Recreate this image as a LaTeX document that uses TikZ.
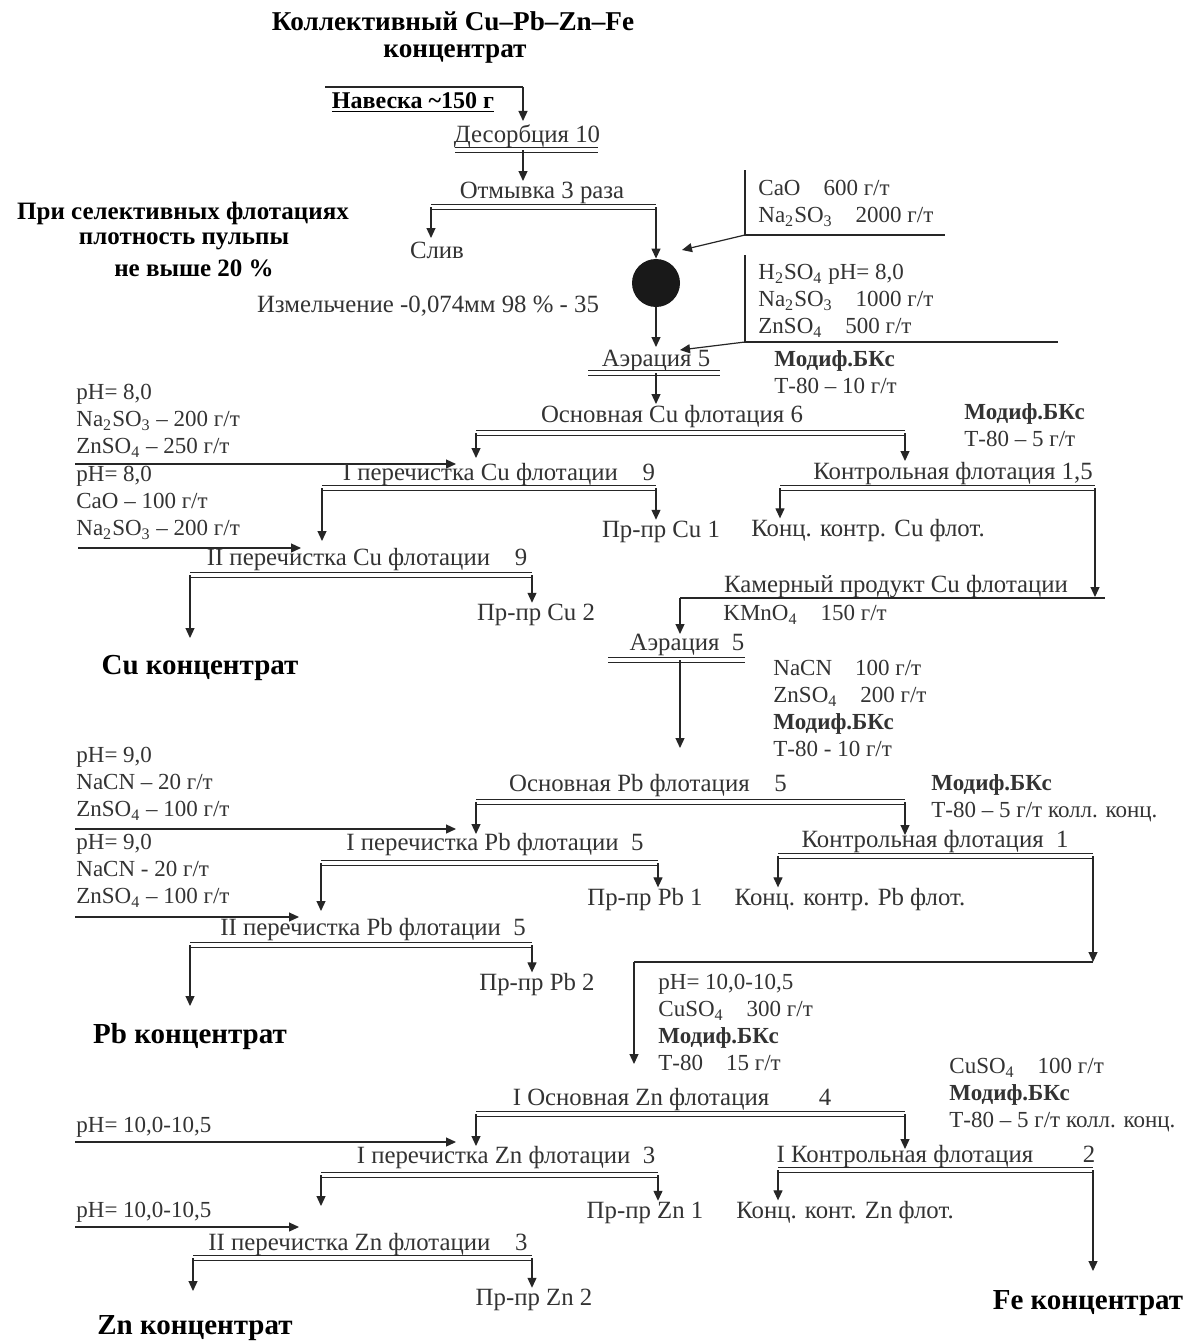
\documentclass[tikz,border=0pt]{standalone}
\usepackage{fontspec}
\setmainfont{Liberation Serif}
\usetikzlibrary{arrows.meta}
\newcommand{\subx}[1]{\textsubscript{#1}}
\begin{document}
\begin{tikzpicture}[x=0.5pt,y=-0.5pt,
  txt/.style={inner sep=0.5pt, text=black!80, font=\fontsize{12.4}{13.5}\selectfont},
  blk/.style={inner sep=0.5pt, text=black!80, font=\fontsize{11.5}{13.5}\selectfont, align=left, anchor=north west},
  hd/.style={inner sep=0.5pt, font=\bfseries\fontsize{14.5}{17}\selectfont},
  ttl/.style={inner sep=0.5pt, font=\bfseries\fontsize{13.6}{15}\selectfont},
  note/.style={inner sep=0.5pt, font=\bfseries\fontsize{12.5}{14}\selectfont},
  arr/.style={draw=black!85, line width=0.6pt, -{Triangle[length=5pt,width=4.5pt]}},
  ln/.style={draw=black!85, line width=0.6pt},
  bar/.style={draw=black!85, double, double distance=1.6pt, line width=0.5pt}]
\useasboundingbox (0,0) rectangle (1200,1343);
\fill[white] (0,0) rectangle (1200,1343);

% ---------- title ----------
\node[ttl] (t1) at (453,21) {Коллективный Cu–Pb–Zn–Fe};
\node[ttl] (t2) at (455,54) {концентрат};

% ---------- Навеска / Десорбция / Отмывка ----------
\coordinate (nvA) at (325,87);
\coordinate (nvB) at (523,87);
\node[inner sep=0.5pt, font=\bfseries\fontsize{12}{14}\selectfont] (nav) at (413,103) {\underline{Навеска \textasciitilde150 г}};
\coordinate (desIn) at (523,121);
\draw[ln] (nvA) -- (nvB);
\draw[arr] (nvB) -- (desIn);
\node[txt] (des) at (527,136) {Десорбция 10};
\coordinate (desL) at (455,150);
\coordinate (desR) at (598,150);
\coordinate (desM) at (523,150);
\draw[bar] (desL) -- (desR);
\coordinate (otmIn) at (523,181);
\draw[arr] (desM) -- (otmIn);
\node[txt] (otm) at (542,193) {Отмывка 3 раза};
\coordinate (otmL) at (431,207);
\coordinate (otmR) at (656,207);
\draw[bar] (otmL) -- (otmR);
\coordinate (slivIn) at (431,238);
\draw[arr] (otmL) -- (slivIn);
\node[txt] (sliv) at (437,250) {Слив};
\node[circle, fill=black!90, minimum size=24pt, inner sep=0pt] (mill) at (656,283) {};
\draw[arr] (otmR) -- (mill.north);

% note and grinding
\node[note] (n1) at (183,213) {При селективных флотациях};
\node[note] (n2) at (184,241) {плотность пульпы};
\node[note] (n3) at (194,268) {не выше 20 \%};
\node[txt] (grind) at (428,306) {Измельчение -0,074мм 98 \% - 35};

% reagent box 1
\coordinate (r1T) at (745,170);
\coordinate (r1B) at (745,235);
\coordinate (r1E) at (945,235);
\draw[ln] (r1T) -- (r1B) -- (r1E);
\node[blk] (r1) at (757,179) {CaO\quad 600 г/т\\Na\subx{2}SO\subx{3}\quad 2000 г/т};
\coordinate (r1tip) at (682,250);
\draw[arr] (r1B) -- (r1tip);

% reagent box 2
\coordinate (r2T) at (745,255);
\coordinate (r2B) at (745,342);
\coordinate (r2E) at (1058,342);
\draw[ln] (r2T) -- (r2B) -- (r2E);
\node[blk] (r2) at (757,263) {H\subx{2}SO\subx{4} pH= 8,0\\Na\subx{2}SO\subx{3}\quad 1000 г/т\\ZnSO\subx{4}\quad 500 г/т};
\coordinate (r2tip) at (680,350);
\draw[arr] (r2B) -- (r2tip);

% Аэрация 5
\coordinate (aerIn) at (656,347);
\draw[arr] (mill.south) -- (aerIn);
\node[txt] (aer1) at (656,361) {Аэрация 5};
\coordinate (aer1L) at (588,373);
\coordinate (aer1R) at (720,373);
\coordinate (aer1M) at (656,373);
\draw[bar] (aer1L) -- (aer1R);
\coordinate (ocuIn) at (656,404);
\draw[arr] (aer1M) -- (ocuIn);
\node[blk] (m1) at (773,349) {\textbf{Модиф.БКс}\\Т-80 – 10 г/т};

% ---------- Cu ----------
\node[txt] (ocu) at (672,417) {Основная Cu флотация 6};
\coordinate (ocuL) at (476,433);
\coordinate (ocuR) at (905,433);
\draw[bar] (ocuL) -- (ocuR);
\coordinate (p1cuIn) at (476,458);
\coordinate (kcuIn) at (905,461);
\draw[arr] (ocuL) -- (p1cuIn);
\draw[arr] (ocuR) -- (kcuIn);
\node[blk] (m2) at (963,402) {\textbf{Модиф.БКс}\\Т-80 – 5 г/т};

\node[txt] (kcu) at (953,474) {Контрольная флотация 1,5};
\coordinate (kcuL) at (780,488);
\coordinate (kcuR) at (1095,488);
\draw[bar] (kcuL) -- (kcuR);
\node[txt] (kkcu) at (868,531) {Конц. контр. Cu флот.};
\draw[arr] (kcuL) -- (kkcu.north -| kcuL);

\node[blk] (la1) at (75,383) {pH= 8,0\\Na\subx{2}SO\subx{3} – 200 г/т\\ZnSO\subx{4} – 250 г/т};
\coordinate (la1A) at (75,464);
\coordinate (la1B) at (456,464);
\draw[arr] (la1A) -- (la1B);

\node[txt] (p1cu) at (499,475) {I перечистка Cu флотации\quad 9};
\coordinate (p1cuL) at (322,488);
\coordinate (p1cuR) at (656,488);
\draw[bar] (p1cuL) -- (p1cuR);
\coordinate (p2cuIn) at (322,541);
\draw[arr] (p1cuL) -- (p2cuIn);
\node[txt] (prcu1) at (661,532) {Пр-пр Cu 1};
\draw[arr] (p1cuR) -- (prcu1.north -| p1cuR);

\node[blk] (la2) at (75,465) {pH= 8,0\\CaO – 100 г/т\\Na\subx{2}SO\subx{3} – 200 г/т};
\coordinate (la2A) at (78,548);
\coordinate (la2B) at (301,548);
\draw[arr] (la2A) -- (la2B);

\node[txt] (p2cu) at (367,560) {II перечистка Cu флотации\quad 9};
\coordinate (p2cuL) at (190,575);
\coordinate (p2cuR) at (532,575);
\draw[bar] (p2cuL) -- (p2cuR);
\node[hd] (cuk) at (200,668) {Cu концентрат};
\coordinate (cukIn) at (190,638);
\draw[arr] (p2cuL) -- (cukIn);
\node[txt] (prcu2) at (536,615) {Пр-пр Cu 2};
\draw[arr] (p2cuR) -- (prcu2.north -| p2cuR);

% камерный продукт
\node[txt] (kam) at (896,587) {Камерный продукт Cu флотации};
\coordinate (kamL) at (680,598);
\coordinate (kamR) at (1105,598);
\coordinate (kamM) at (1095,597);
\draw[ln] (kamL) -- (kamR);
\draw[arr] (kcuR) -- (kamM);
\node[blk] (kmn) at (722,604) {KMnO\subx{4}\quad 150 г/т};
\coordinate (aer2In) at (680,634);
\draw[arr] (kamL) -- (aer2In);
\node[txt] (aer2) at (687,645) {Аэрация\enspace 5};
\coordinate (aer2L) at (608,660);
\coordinate (aer2R) at (745,660);
\coordinate (aer2M) at (680,660);
\draw[bar] (aer2L) -- (aer2R);
\coordinate (opbIn) at (680,748);
\draw[arr] (aer2M) -- (opbIn);
\node[blk] (rpb) at (772,659) {NaCN\quad 100 г/т\\ZnSO\subx{4}\quad 200 г/т\\\textbf{Модиф.БКс}\\Т-80 - 10 г/т};

% ---------- Pb ----------
\node[txt] (opb) at (648,786) {Основная Pb флотация\quad 5};
\coordinate (opbL) at (476,802);
\coordinate (opbR) at (905,802);
\draw[bar] (opbL) -- (opbR);
\coordinate (p1pbIn) at (476,834);
\coordinate (kpbIn) at (905,835);
\draw[arr] (opbL) -- (p1pbIn);
\draw[arr] (opbR) -- (kpbIn);
\node[blk] (m3) at (930,773) {\textbf{Модиф.БКс}\\Т-80 – 5 г/т колл. конц.};

\node[txt] (kpb) at (935,842) {Контрольная флотация\enspace 1};
\coordinate (kpbL) at (778,856);
\coordinate (kpbR) at (1093,856);
\draw[bar] (kpbL) -- (kpbR);
\node[txt] (kkpb) at (850,900) {Конц. контр. Pb флот.};
\draw[arr] (kpbL) -- (kkpb.north -| kpbL);

\node[blk] (lb1) at (75,746) {pH= 9,0\\NaCN – 20 г/т\\ZnSO\subx{4} – 100 г/т};
\coordinate (lb1A) at (75,829);
\coordinate (lb1B) at (456,829);
\draw[arr] (lb1A) -- (lb1B);

\node[txt] (p1pb) at (495,845) {I перечистка Pb флотации\enspace 5};
\coordinate (p1pbL) at (321,863);
\coordinate (p1pbR) at (658,863);
\draw[bar] (p1pbL) -- (p1pbR);
\coordinate (p2pbIn) at (321,911);
\draw[arr] (p1pbL) -- (p2pbIn);
\node[txt] (prpb1) at (645,900) {Пр-пр Pb 1};
\draw[arr] (p1pbR) -- (prpb1.north -| p1pbR);

\node[blk] (lb2) at (75,833) {pH= 9,0\\NaCN - 20 г/т\\ZnSO\subx{4} – 100 г/т};
\coordinate (lb2A) at (75,917);
\coordinate (lb2B) at (299,917);
\draw[arr] (lb2A) -- (lb2B);

\node[txt] (p2pb) at (373,930) {II перечистка Pb флотации\enspace 5};
\coordinate (p2pbL) at (190,945);
\coordinate (p2pbR) at (532,945);
\draw[bar] (p2pbL) -- (p2pbR);
\node[hd] (pbk) at (190,1037) {Pb концентрат};
\coordinate (pbkIn) at (190,1006);
\draw[arr] (p2pbL) -- (pbkIn);
\node[txt] (prpb2) at (537,985) {Пр-пр Pb 2};
\draw[arr] (p2pbR) -- (prpb2.north -| p2pbR);

% ---------- transfer to Zn ----------
\coordinate (znL) at (634,962);
\coordinate (znR) at (1093,962);
\draw[ln] (znL) -- (znR);
\draw[arr] (kpbR) -- (znR);
\coordinate (oznIn) at (634,1064);
\draw[arr] (znL) -- (oznIn);
\node[blk] (rzn) at (657,973) {pH= 10,0-10,5\\CuSO\subx{4}\quad 300 г/т\\\textbf{Модиф.БКс}\\Т-80\quad 15 г/т};
\node[blk] (m4) at (948,1057) {CuSO\subx{4}\quad 100 г/т\\\textbf{Модиф.БКс}\\Т-80 – 5 г/т колл. конц.};

% ---------- Zn ----------
\node[txt] (ozn) at (672,1100) {I Основная Zn флотация\qquad 4};
\coordinate (oznL) at (476,1114);
\coordinate (oznR) at (905,1114);
\draw[bar] (oznL) -- (oznR);
\coordinate (p1znIn) at (476,1146);
\coordinate (kznIn) at (905,1149);
\draw[arr] (oznL) -- (p1znIn);
\draw[arr] (oznR) -- (kznIn);

\node[txt] (kzn) at (936,1157) {I Контрольная флотация\qquad 2};
\coordinate (kznL) at (778,1170);
\coordinate (kznR) at (1093,1170);
\draw[bar] (kznL) -- (kznR);
\node[txt] (kkzn) at (845,1213) {Конц. конт. Zn флот.};
\draw[arr] (kznL) -- (kkzn.north -| kznL);
\node[hd] (fek) at (1088,1303) {Fe концентрат};
\coordinate (fekIn) at (1093,1271);
\draw[arr] (kznR) -- (fekIn);

\node[blk] (lc1) at (75,1116) {pH= 10,0-10,5};
\coordinate (lc1A) at (75,1142);
\coordinate (lc1B) at (456,1142);
\draw[arr] (lc1A) -- (lc1B);

\node[txt] (p1zn) at (506,1158) {I перечистка Zn флотации\enspace 3};
\coordinate (p1znL) at (321,1175);
\coordinate (p1znR) at (658,1175);
\draw[bar] (p1znL) -- (p1znR);
\coordinate (p2znIn) at (321,1206);
\draw[arr] (p1znL) -- (p2znIn);
\node[txt] (przn1) at (645,1213) {Пр-пр Zn 1};
\draw[arr] (p1znR) -- (przn1.north -| p1znR);

\node[blk] (lc2) at (75,1201) {pH= 10,0-10,5};
\coordinate (lc2A) at (75,1227);
\coordinate (lc2B) at (299,1227);
\draw[arr] (lc2A) -- (lc2B);

\node[txt] (p2zn) at (368,1245) {II перечистка Zn флотации\quad 3};
\coordinate (p2znL) at (193,1258);
\coordinate (p2znR) at (532,1258);
\draw[bar] (p2znL) -- (p2znR);
\node[hd] (znk) at (195,1328) {Zn концентрат};
\coordinate (znkIn) at (193,1291);
\draw[arr] (p2znL) -- (znkIn);
\node[txt] (przn2) at (534,1300) {Пр-пр Zn 2};
\draw[arr] (p2znR) -- (przn2.north -| p2znR);
\end{tikzpicture}
\end{document}
